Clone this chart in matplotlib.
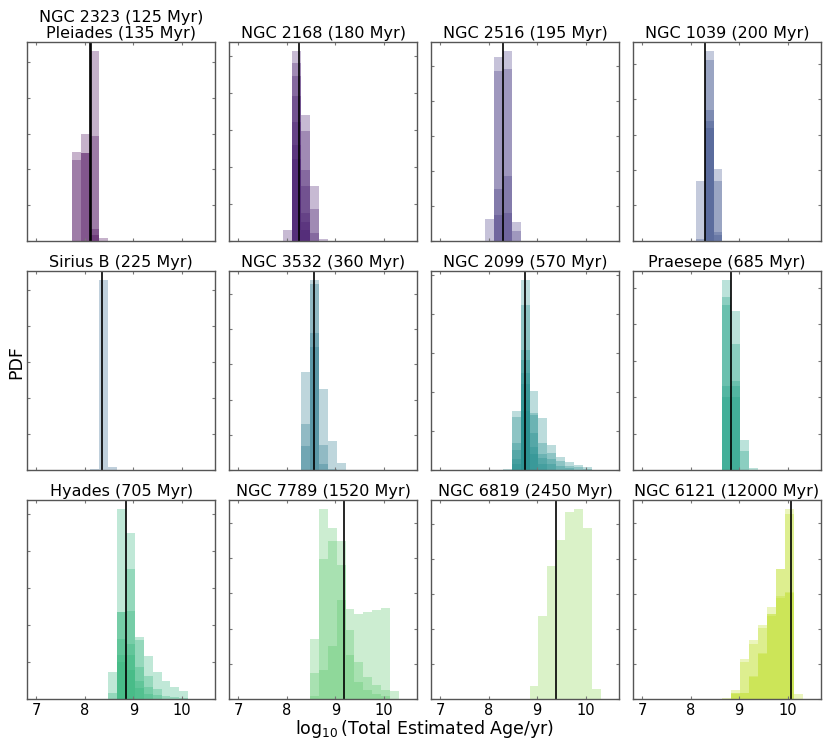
import numpy as np
import matplotlib
matplotlib.use('Agg')
import matplotlib.pyplot as plt
from matplotlib.ticker import MaxNLocator

# log10(age) bins shared by every panel
bin_edges = np.linspace(7.0, 10.5, 20)

titles = ['NGC 2323 (125 Myr)\nPleiades (135 Myr)', 'NGC 2168 (180 Myr)',
          'NGC 2516 (195 Myr)', 'NGC 1039 (200 Myr)', 'Sirius B (225 Myr)',
          'NGC 3532 (360 Myr)', 'NGC 2099 (570 Myr)', 'Praesepe (685 Myr)',
          'Hyades (705 Myr)', 'NGC 7789 (1520 Myr)', 'NGC 6819 (2450 Myr)',
          'NGC 6121 (12000 Myr)']
cluster_ages_myr = [[125, 135], [180], [195], [200], [225], [360], [570],
                    [685], [705], [1520], [2450], [12000]]

# one entry per star: (first bin index, PDF value in each bin from there)
ngc2323_pleiades = [
    (4, [2.48, 2.99, 5.31, 0.075]),
    (4, [2.25, 2.47, 2.94]),
    (5, [2.45, 0.32]),
    (6, [0.16]),
]
ngc2168 = [
    (5, [0.29, 5.13, 3.39, 1.47, 0.05]),
    (6, [4.80, 2.96, 0.85]),
    (6, [4.47, 1.92, 0.22]),
    (6, [3.91, 1.48]),
    (6, [3.21, 0.74]),
    (6, [2.60, 0.50]),
    (6, [2.20, 0.29]),
]
ngc2516 = [
    (5, [0.51, 4.22, 4.35, 0.44]),
    (6, [3.90, 3.95, 0.23]),
    (6, [1.19, 1.49]),
    (6, [0.59, 0.64]),
]
ngc1039 = [
    (6, [1.69, 5.36, 2.02]),
    (6, [0.04, 5.11, 1.69]),
    (7, [3.71, 0.24]),
    (7, [3.38, 0.16]),
    (7, [3.20]),
]
sirius_b = [
    (6, [0.02, 5.27, 0.09]),
]
ngc3532 = [
    (7, [2.77, 5.39, 2.30, 0.81, 0.21]),
    (7, [1.30, 5.28, 0.72, 0.03]),
    (7, [0.68, 3.90, 0.17]),
    (8, [3.50]),
]
ngc2099 = [
    (7, [0.02, 1.52, 4.86, 2.03, 1.34, 0.63, 0.33, 0.21, 0.13, 0.09]),
    (8, [1.35, 4.23, 1.47, 0.69, 0.44, 0.22, 0.11, 0.07, 0.03]),
    (8, [0.69, 3.07, 1.40, 0.41, 0.28, 0.11, 0.05]),
    (8, [0.52, 2.83, 0.94, 0.30, 0.15]),
    (8, [0.28, 2.49, 0.60, 0.15]),
    (8, [0.15, 2.20, 0.40]),
    (9, [1.80]),
    (9, [1.50]),
]
praesepe = [
    (9, [4.17, 3.50, 0.65, 0.04]),
    (9, [3.80, 2.77, 0.41]),
    (9, [3.63, 1.96]),
    (9, [1.84, 1.84]),
    (9, [1.60, 1.60]),
]
hyades = [
    (8, [0.73, 5.12, 4.49, 1.68, 1.17, 0.73, 0.50, 0.34, 0.23]),
    (8, [0.16, 2.34, 3.50, 1.60, 0.63, 0.27, 0.09, 0.05, 0.03]),
    (9, [2.34, 2.37, 0.88, 0.34, 0.10]),
    (9, [1.62, 1.50, 0.50, 0.15]),
    (9, [1.20, 1.20, 0.30]),
    (9, [1.00, 0.80]),
]
ngc7789 = [
    (8, [0.515, 1.615, 1.46, 1.35, 0.765, 0.725, 0.745, 0.76, 0.78, 0.07]),
    (8, [0.22, 1.19, 1.35, 1.14, 0.585, 0.32, 0.19, 0.12, 0.075]),
    (8, [0.025, 0.25, 0.455, 0.84, 0.38, 0.15, 0.08, 0.045, 0.025]),
]
ngc6819 = [
    (10, [0.076, 0.472, 0.762, 0.91, 1.068, 1.082, 0.974, 0.058]),
]
ngc6121 = [
    (9, [0.015, 0.105, 0.455, 0.67, 0.845, 1.045, 1.485, 2.16, 0.055]),
    (10, [0.075, 0.425, 0.63, 0.805, 0.965, 1.48, 2.105]),
    (10, [0.075, 0.075, 0.26, 0.525, 0.965, 1.17, 1.22]),
    (10, [0.06, 0.07, 0.25, 0.515, 0.95, 1.15, 1.21]),
]

panels = [ngc2323_pleiades, ngc2168, ngc2516, ngc1039, sirius_b, ngc3532,
          ngc2099, praesepe, hyades, ngc7789, ngc6819, ngc6121]

colors = plt.cm.viridis(np.linspace(0, 0.9, len(panels)))
bin_width = np.diff(bin_edges)

fig, axes = plt.subplots(3, 4, figsize=(8.3, 7.43), dpi=100)
fig.subplots_adjust(left=0.033, right=0.989, top=0.944, bottom=0.059,
                    wspace=0.075, hspace=0.15)

for i, ax in enumerate(axes.flat):
    for start, heights in panels[i]:
        stop = start + len(heights)
        ax.bar(bin_edges[start:stop], heights, width=bin_width[start:stop],
               align='edge', color=colors[i], alpha=0.3, linewidth=0)
    for age in cluster_ages_myr[i]:
        ax.axvline(np.log10(age * 1e6), color='k', lw=1.2)

    ax.set_title(titles[i], fontsize=11.5, pad=2.5, linespacing=1.1)
    ax.set_xlim(bin_edges[0] - bin_width[0], bin_edges[-1] + bin_width[-1])
    ax.set_xticks([7, 8, 9, 10])
    ax.yaxis.set_major_locator(MaxNLocator(nbins=6))
    ax.set_yticklabels([])
    if i < 8:
        ax.set_xticklabels([])
    ax.tick_params(direction='in', top=True, right=True, length=2,
                   width=0.8, color='#777777', labelsize=10.5, pad=2.5)
    for sp in ax.spines.values():
        sp.set_color('#555555')
        sp.set_linewidth(1.0)

fig.text(0.019, 0.513, 'PDF', rotation=90, fontsize=12.5,
         ha='center', va='center')
fig.text(0.511, 0.034, r'$\log_{10}$(Total Estimated Age/yr)', fontsize=12.5,
         ha='center', va='top')

fig.savefig('out.png', dpi=100)
